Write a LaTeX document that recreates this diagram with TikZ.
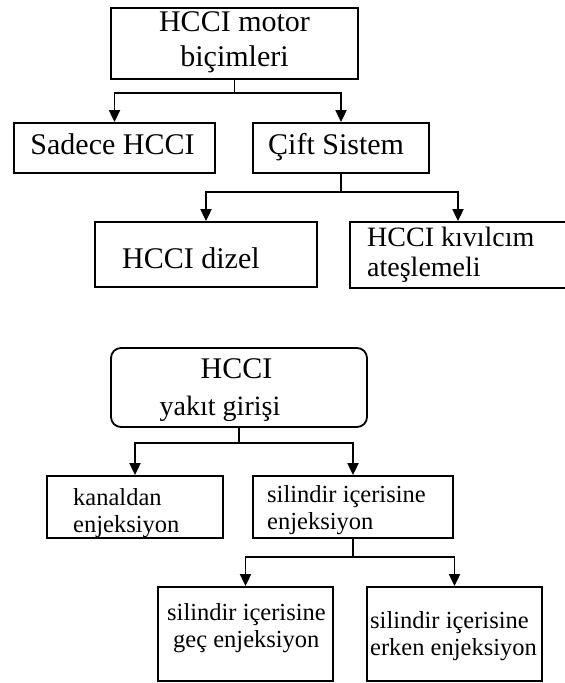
\documentclass[tikz,border=0pt]{standalone}
\usepackage{fontspec}
\setmainfont{Liberation Serif}
\usetikzlibrary{arrows.meta}
\begin{document}
\begin{tikzpicture}[x=1bp,y=-1bp,
  box/.style={draw, line width=1.8bp, rectangle, inner sep=0pt},
  conn/.style={line width=1.8bp},
  arr/.style={conn, -{Triangle[length=12bp,width=11bp]}},
  big/.style={font=\fontsize{30bp}{35bp}\selectfont, inner sep=0pt},
  mid/.style={font=\fontsize{28bp}{32bp}\selectfont, inner sep=0pt},
  small/.style={font=\fontsize{24.5bp}{28bp}\selectfont, inner sep=0pt}]
\clip (0,0) rectangle (565,683);
\fill[white] (0,0) rectangle (565,683);
% boxes
\node[box, minimum width=247bp, minimum height=71bp] (A) at (234.5,43.5) {};
\node[box, minimum width=201bp, minimum height=50bp] (B) at (114.5,148) {};
\node[box, minimum width=176bp, minimum height=50bp] (C) at (341,148) {};
\node[box, minimum width=222bp, minimum height=65bp] (D) at (206,254.5) {};
\node[box, minimum width=216bp, minimum height=66bp] (E) at (458,255) {};
\node[box, rounded corners=10bp, minimum width=256bp, minimum height=79bp] (F) at (239,387.5) {};
\node[box, minimum width=176bp, minimum height=62bp] (G) at (135,507) {};
\node[box, minimum width=200bp, minimum height=62bp] (H) at (353,507) {};
\node[box, minimum width=175bp, minimum height=94bp] (I) at (245.5,634) {};
\node[box, minimum width=175bp, minimum height=94bp] (J) at (454.5,634) {};
% texts
\node[big, anchor=base] (tA1) at (234.5,32) {HCCI motor};
\node[big, anchor=base] (tA2) at (234.5,67) {biçimleri};
\node[big, anchor=base] (tB) at (112.5,154) {Sadece HCCI};
\node[big, anchor=base west] (tC) at (268,154) {Çift Sistem};
\node[big, anchor=base west] (tD) at (122,268) {HCCI dizel};
\node[mid, anchor=base west] (tE1) at (367,246) {HCCI kıvılcım};
\node[mid, anchor=base west] (tE2) at (367,276) {ateşlemeli};
\node[big, anchor=base] (tF1) at (236.5,378) {HCCI};
\node[mid, anchor=base] (tF2) at (220,415) {yakıt girişi};
\node[small, anchor=base west] (tG1) at (73,505) {kanaldan};
\node[small, anchor=base west] (tG2) at (73,532) {enjeksiyon};
\node[small, anchor=base west] (tH1) at (267,502) {silindir içerisine};
\node[small, anchor=base west] (tH2) at (267,529) {enjeksiyon};
\node[small, anchor=base west] (tI1) at (167,620) {silindir içerisine};
\node[small, anchor=base west] (tI2) at (173,647) {geç enjeksiyon};
\node[small, anchor=base west] (tJ1) at (370,628) {silindir içerisine};
\node[small, anchor=base west] (tJ2) at (370,655) {erken enjeksiyon};
% connectors
\coordinate (j1) at (234.5,93);
\draw[conn] (A.south) -- (j1);
\draw[arr] (j1) -| (B.north);
\draw[arr] (j1) -| (C.north);
\coordinate (j2) at (341,192);
\draw[conn] (C.south) -- (j2);
\draw[arr] (j2) -| (D.north);
\draw[arr] (j2) -| (E.north);
\coordinate (j3) at (239,443);
\draw[conn] (F.south) -- (j3);
\draw[arr] (j3) -| (G.north);
\draw[arr] (j3) -| (H.north);
\coordinate (j4) at (353,557);
\draw[conn] (H.south) -- (j4);
\draw[arr] (j4) -| (I.north);
\draw[arr] (j4) -| (J.north);
\end{tikzpicture}
\end{document}
